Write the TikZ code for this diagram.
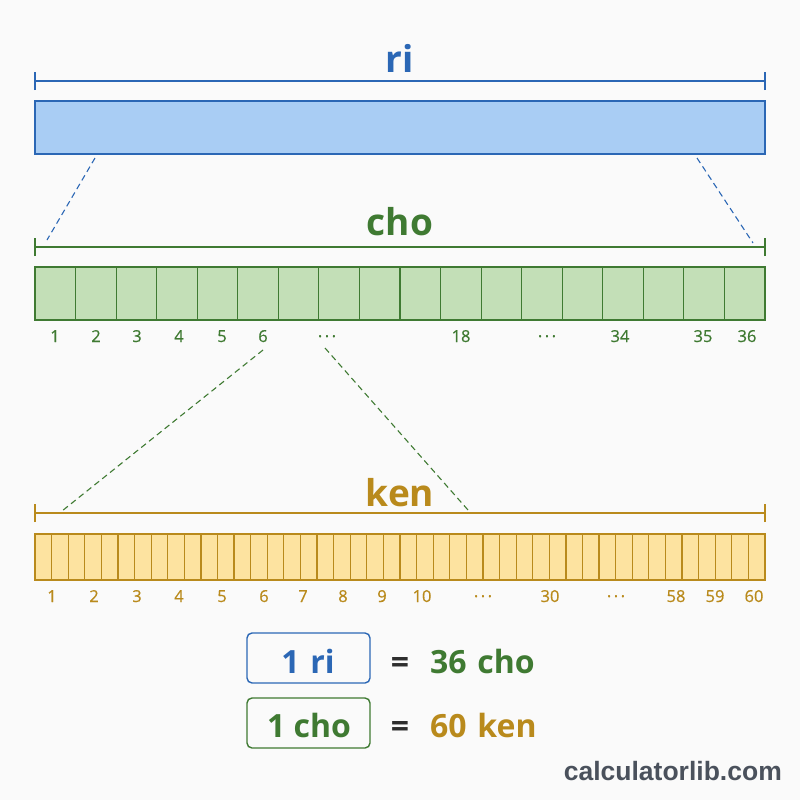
\documentclass[tikz,border=0pt]{standalone}
\usepackage{fontspec}
\setmainfont{Open Sans}
\newfontfamily\medfont{Open Sans}[FakeBold=0.5]
\newfontfamily\wmfont{Liberation Sans}
\definecolor{bgc}{HTML}{FAFAFA}
\definecolor{riline}{HTML}{2B67B5}
\definecolor{rifill}{HTML}{A9CDF4}
\definecolor{choline}{HTML}{3F7A32}
\definecolor{chofill}{HTML}{C3DFB7}
\definecolor{kenline}{HTML}{B98A1C}
\definecolor{kenfill}{HTML}{FDE3A0}
\definecolor{wmc}{HTML}{4A515C}
\definecolor{eqc}{HTML}{2E2E2E}
\newcommand{\mydots}{·\kern2.5pt·\kern2.5pt·}
\tikzset{
  dimline/.style={line width=2pt},
  barbox/.style={line width=1.8pt},
  cellline/.style={line width=1.2pt},
  zoomline/.style={line width=1.1pt, dash pattern=on 6pt off 4pt},
  heading/.style={font=\fontsize{37}{40}\selectfont\bfseries, anchor=base, inner sep=0pt},
  tick/.style={font=\medfont\fontsize{16.5}{18}\selectfont, anchor=base, inner sep=0pt},
  eqbox/.style={draw, rounded corners=5pt, line width=1.4pt, minimum width=123pt, minimum height=50pt, inner sep=0pt},
  eqtext/.style={font=\fontsize{32}{35}\selectfont\bfseries, anchor=base, inner sep=0pt},
}
\begin{document}
\begin{tikzpicture}[x=1pt,y=-1pt]
\fill[bgc] (0,0) rectangle (800,800);
\useasboundingbox (0,0) rectangle (800,800);

% ---------- ri ----------
\node[heading, text=riline] (rilab) at (400,73) {ri};
\coordinate (riL) at (35,81);
\coordinate (riR) at (765,81);
\draw[dimline, riline] (riL) -- (riR);
\draw[dimline, riline] ([yshift=-9pt]riL) -- ([yshift=9pt]riL);
\draw[dimline, riline] ([yshift=-9pt]riR) -- ([yshift=9pt]riR);
\draw[barbox, draw=riline, fill=rifill] (35,101) rectangle (765,154);
\coordinate (riBL) at (95,158);
\coordinate (riBR) at (697,158);

% ---------- cho ----------
\node[heading, text=choline] (cholab) at (400,235) {cho};
\coordinate (choL) at (35,247);
\coordinate (choR) at (765,247);
\draw[dimline, choline] (choL) -- (choR);
\draw[dimline, choline] ([yshift=-9pt]choL) -- ([yshift=9pt]choL);
\draw[dimline, choline] ([yshift=-9pt]choR) -- ([yshift=9pt]choR);
\coordinate (choDL) at (47,240);
\coordinate (choDR) at (753,243);
\draw[zoomline, riline] (riBL) -- (choDL);
\draw[zoomline, riline] (riBR) -- (choDR);
\draw[barbox, draw=choline, fill=chofill] (35,267) rectangle (765,320);
\foreach \i in {1,...,17} {
  \draw[cellline, choline] ({35+\i*40.5556},267) -- ({35+\i*40.5556},320);
}
\foreach \x/\t/\n in {55/1/c1, 96/2/c2, 137/3/c3, 179/4/c4, 222/5/c5, 263/6/c6, 461/18/c18, 620/34/c34, 703/35/c35, 747/36/c36} {
  \node[tick, text=choline] (\n) at (\x,342) {\t};
}
\node[tick, text=choline] (cdots1) at (327,342) {\mydots};
\node[tick, text=choline] (cdots2) at (547,342) {\mydots};
\coordinate (c6b) at (263,350);
\coordinate (cdb) at (325,348);

% ---------- ken ----------
\node[heading, text=kenline] (kenlab) at (400,506) {ken};
\coordinate (kenL) at (35,513);
\coordinate (kenR) at (765,513);
\draw[dimline, kenline] (kenL) -- (kenR);
\draw[dimline, kenline] ([yshift=-9pt]kenL) -- ([yshift=9pt]kenL);
\draw[dimline, kenline] ([yshift=-9pt]kenR) -- ([yshift=9pt]kenR);
\coordinate (kenDL) at (62,511);
\coordinate (kenDR) at (468,510);
\draw[zoomline, choline] (c6b) -- (kenDL);
\draw[zoomline, choline] (cdb) -- (kenDR);
\draw[barbox, draw=kenline, fill=kenfill] (35,534) rectangle (765,580);
\foreach \i in {1,...,43} {
  \draw[cellline, kenline] ({35+\i*16.5909},534) -- ({35+\i*16.5909},580);
}
\foreach \x/\t/\n in {52/1/k1, 94/2/k2, 137/3/k3, 179/4/k4, 222/5/k5, 264/6/k6, 303/7/k7, 343/8/k8, 382/9/k9, 422/10/k10, 550/30/k30, 676/58/k58, 715/59/k59, 754/60/k60} {
  \node[tick, text=kenline] (\n) at (\x,602) {\t};
}
\node[tick, text=kenline] (kdots1) at (483,602) {\mydots};
\node[tick, text=kenline] (kdots2) at (616,602) {\mydots};

% ---------- equations ----------
\node[eqbox, draw=riline] (box1) at (308.5,658) {};
\node[eqtext, text=riline] (eq1l) at (308,673) {1\,\,ri};
\node[eqtext, text=eqc] (eq1e) at (400,673) {=};
\node[eqtext, text=choline, anchor=base west] (eq1r) at (430,673) {36\,\,cho};

\node[eqbox, draw=choline] (box2) at (308.5,723) {};
\node[eqtext, text=choline] (eq2l) at (309,737) {1 cho};
\node[eqtext, text=eqc] (eq2e) at (400,737) {=};
\node[eqtext, text=kenline, anchor=base west] (eq2r) at (430,737) {60\,\,ken};

% ---------- watermark ----------
\node[anchor=base east, inner sep=0pt, text=wmc, font=\wmfont\fontsize{26.5}{28}\selectfont\bfseries] (wm) at (782,780) {calculatorlib.com};
\end{tikzpicture}
\end{document}
